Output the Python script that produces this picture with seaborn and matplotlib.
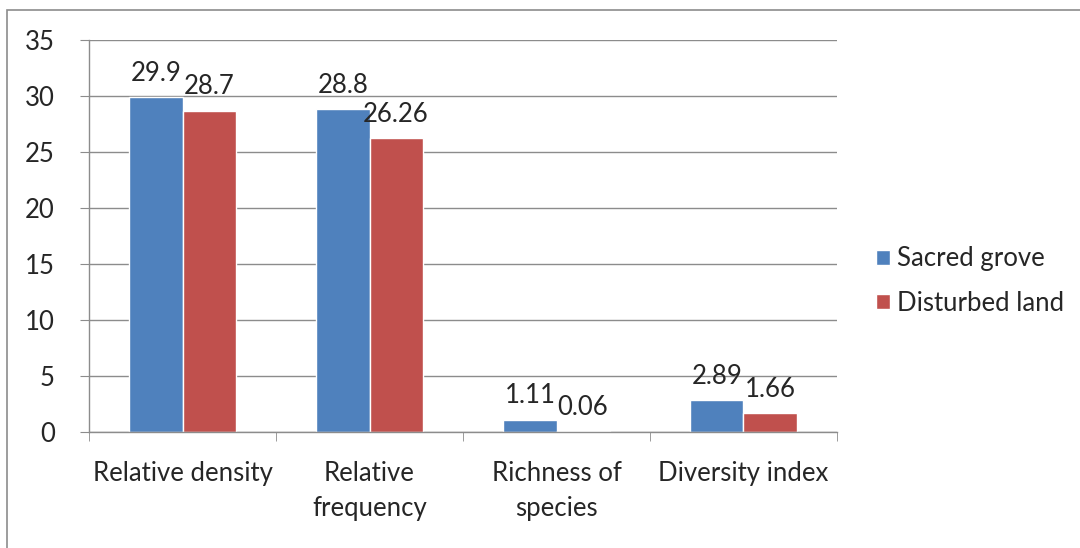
import pandas as pd
import numpy as np
import matplotlib.pyplot as plt
import seaborn as sns
from matplotlib.patches import Rectangle

# Chart data
categories = ['Relative density', 'Relative\nfrequency', 'Richness of\nspecies', 'Diversity index']
series = ['Sacred grove', 'Disturbed land']
sacred_grove = [29.9, 28.8, 1.11, 2.89]
disturbed_land = [28.7, 26.26, 0.06, 1.66]
label_text = {'Sacred grove': ['29.9', '28.8', '1.11', '2.89'],
              'Disturbed land': ['28.7', '26.26', '0.06', '1.66']}

df = pd.DataFrame({
    'Category': categories * 2,
    'Series': [series[0]] * 4 + [series[1]] * 4,
    'Value': sacred_grove + disturbed_land,
})

sns.set_style('white')
plt.rcParams['font.family'] = ['Lato', 'DejaVu Sans']
FS = 18.5

fig = plt.figure(figsize=(10.8, 5.48), dpi=100)
ax = fig.add_axes([89 / 1080, 1 - 432 / 548, (837 - 89) / 1080, (432 - 40) / 548])

sns.barplot(data=df, x='Category', y='Value', hue='Series', order=categories,
            hue_order=series, palette=['#4F81BD', '#C0504D'], width=0.567,
            gap=0, saturation=1, ax=ax, legend=True)

# Data labels
for cont, name in zip(ax.containers, series):
    ax.bar_label(cont, labels=label_text[name], padding=8, fontsize=FS)

ax.set_ylim(0, 35)
ax.set_yticks(range(0, 36, 5))
ax.set_xlim(-0.5, 3.5)
ax.set_xlabel('')
ax.set_ylabel('')
ax.yaxis.grid(True, color='#8c8c8c', linewidth=1)
ax.set_axisbelow(True)

for s in ['top', 'right']:
    ax.spines[s].set_visible(False)
for s in ['left', 'bottom']:
    ax.spines[s].set_color('#8c8c8c')
    ax.spines[s].set_linewidth(1)

ax.tick_params(axis='y', labelsize=FS, length=6.5, color='#8c8c8c', left=True, pad=18)
ax.tick_params(axis='x', which='major', labelsize=FS, length=0, pad=21)
for lbl in ax.get_xticklabels():
    lbl.set_linespacing(1.5)
ax.set_xticks(np.arange(-0.5, 4, 1), minor=True)
ax.tick_params(axis='x', which='minor', length=6.5, color='#8c8c8c', bottom=True)

leg = ax.legend(loc='center left', bbox_to_anchor=(853 / 1080, 1 - 281 / 548),
                bbox_transform=fig.transFigure, frameon=False,
                fontsize=FS, handlelength=0.55, handleheight=0.55, handletextpad=0.25,
                labelspacing=0.75)

# Outer chart frame
fig.patches.append(Rectangle((7 / 1080, -0.01), 1.1, 1 - 10 / 548 + 0.01,
                             transform=fig.transFigure, fill=False,
                             edgecolor='#8c8c8c', linewidth=1.2))

fig.savefig('out.png', dpi=100)
plt.close()
